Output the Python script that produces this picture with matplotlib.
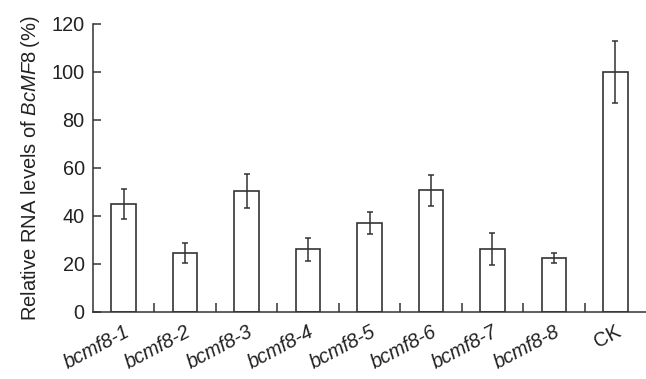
import matplotlib
matplotlib.use("Agg")
import matplotlib.pyplot as plt
import numpy as np

categories = ["bcmf8-1", "bcmf8-2", "bcmf8-3", "bcmf8-4", "bcmf8-5",
              "bcmf8-6", "bcmf8-7", "bcmf8-8", "CK"]
values = [45.0, 24.4, 50.3, 26.1, 37.2, 50.6, 26.2, 22.4, 100.0]
errors = [6.3, 4.2, 7.0, 4.8, 4.6, 6.4, 6.7, 2.0, 13.0]
yticks = [0, 20, 40, 60, 80, 100, 120]

plt.rcParams['font.family'] = ['Liberation Sans', 'DejaVu Sans']
plt.rcParams['mathtext.fontset'] = 'custom'
plt.rcParams['mathtext.it'] = 'Liberation Sans:italic'
plt.rcParams['mathtext.rm'] = 'Liberation Sans'
col = '#333333'

fig = plt.figure(figsize=(6.46, 3.79), dpi=100)
ax = fig.add_axes([0.144, 0.177, 0.856, 0.76])
x = np.arange(len(categories))
ax.bar(x, values, width=0.4, facecolor='white', edgecolor=col, linewidth=1.2, zorder=2)
ax.errorbar(x, values, yerr=errors, fmt='none', ecolor=col, elinewidth=1.1,
            capsize=2.5, capthick=1.1, zorder=3)

ax.set_xlim(-0.5, len(categories) - 0.5)
ax.set_ylim(0, 120)
ax.set_yticks(yticks)
ax.set_yticklabels([str(t) for t in yticks], fontsize=14.3, color='#222222')
ax.tick_params(axis='y', direction='in', length=6, width=1.1, color=col, pad=6)
ax.set_xticks(x)
ax.set_xticks(x[:-1] + 0.5, minor=True)
ax.tick_params(axis='x', which='major', length=0, pad=7)
ax.tick_params(axis='x', which='minor', direction='in', length=6.5, width=1.1, color=col)
labels = ax.set_xticklabels(categories, fontsize=14.3, rotation=28, ha='right',
                            rotation_mode='anchor', color='#222222')
for lab, name in zip(labels, categories):
    if name != 'CK':
        lab.set_style('italic')

for s in ['top', 'right']:
    ax.spines[s].set_visible(False)
for s in ['left', 'bottom']:
    ax.spines[s].set_color(col)
    ax.spines[s].set_linewidth(1.1)

ax.set_ylabel("Relative RNA levels of $\\it{BcMF8}$\u2009(%)", fontsize=14.5,
              labelpad=7, color='#222222')

fig.savefig("out.png", dpi=100)
